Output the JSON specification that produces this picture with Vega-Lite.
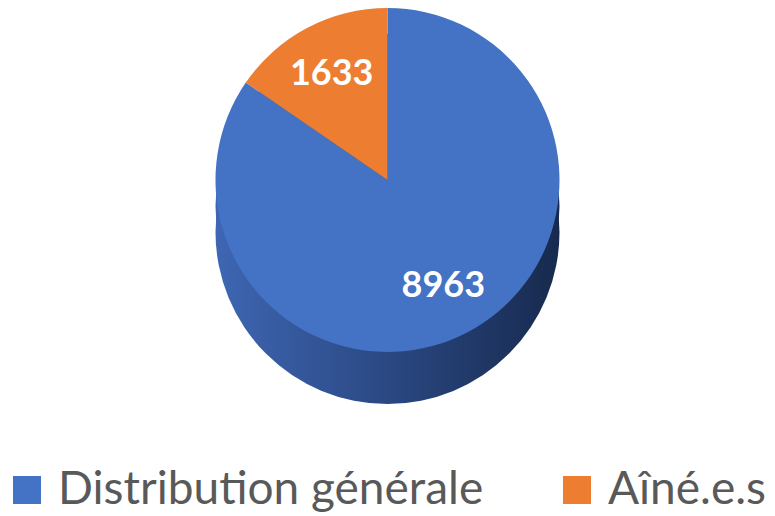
{
  "$schema": "https://vega.github.io/schema/vega-lite/v6.json",
  "width": 775,
  "height": 516,
  "padding": 0,
  "autosize": {"type": "fit", "contains": "padding"},
  "background": "white",
  "config": {"view": {"stroke": null}},
  "data": {"values": [
    {"category": "Distribution générale", "value": 8963, "rank": 1},
    {"category": "Aîné.e.s", "value": 1633, "rank": 2}
  ]},
  "layer": [
    {
      "transform": [{"aggregate": [{"op": "sum", "field": "value", "as": "total"}]}],
      "mark": {"type": "arc", "radius": 172, "yOffset": -26, "fill": {"gradient": "linear", "x1": 0, "y1": 0, "x2": 1, "y2": 0, "stops": [{"offset": 0, "color": "#3e66b3"}, {"offset": 0.5, "color": "#2b4883"}, {"offset": 1, "color": "#172a4e"}]}},
      "encoding": {"theta": {"field": "total", "type": "quantitative"}}
    },
    {
      "transform": [{"aggregate": [{"op": "sum", "field": "value", "as": "total"}]}],
      "mark": {"type": "arc", "radius": 172, "yOffset": -52, "fill": {"gradient": "linear", "x1": 0, "y1": 0, "x2": 1, "y2": 0, "stops": [{"offset": 0, "color": "#3e66b3"}, {"offset": 0.5, "color": "#2b4883"}, {"offset": 1, "color": "#172a4e"}]}},
      "encoding": {"theta": {"field": "total", "type": "quantitative"}}
    },
    {
      "mark": {"type": "arc", "radius": 172, "yOffset": -78, "strokeWidth": 0},
      "encoding": {
        "theta": {"field": "value", "type": "quantitative", "stack": true},
        "order": {"field": "rank", "type": "quantitative"},
        "color": {
          "field": "category",
          "type": "nominal",
          "sort": ["Distribution générale", "Aîné.e.s"],
          "scale": {"domain": ["Distribution générale", "Aîné.e.s"], "range": ["#4472C4", "#ED7D31"]},
          "legend": {
            "orient": "none",
            "legendX": 4,
            "legendY": 467,
            "direction": "horizontal",
            "title": null,
            "symbolType": "square",
            "symbolSize": 784,
            "symbolStrokeWidth": 0,
            "labelFontSize": 46,
            "labelFont": "Lato",
            "labelColor": "#595959",
            "labelLimit": 0,
            "labelOffset": 8,
            "columnPadding": 70
          }
        }
      }
    },
    {
      "mark": {"type": "text", "radius": 120, "yOffset": -78, "fontSize": 36, "fontWeight": "bold", "font": "Lato", "fill": "white"},
      "encoding": {
        "theta": {"field": "value", "type": "quantitative", "stack": true},
        "order": {"field": "rank", "type": "quantitative"},
        "text": {"field": "value", "type": "quantitative", "format": "d"}
      }
    }
  ]
}
